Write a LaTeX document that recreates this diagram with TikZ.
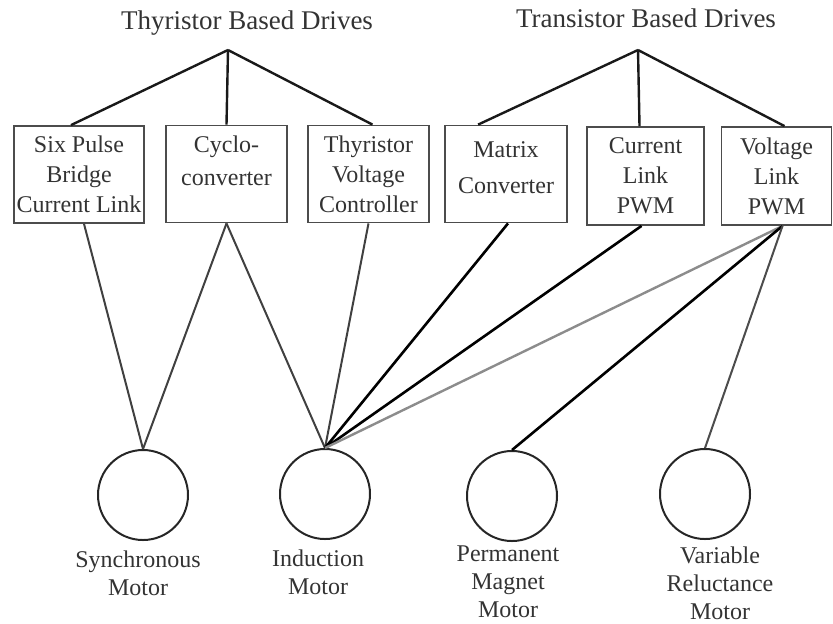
\documentclass[tikz,border=0pt]{standalone}
\usepackage{fontspec}
\setmainfont{Liberation Serif}
\begin{document}
\begin{tikzpicture}[x=0.5pt,y=-0.5pt]
            \useasboundingbox (0,0) rectangle (833,623);

            \node[anchor=base, text=black!80, font=\fontsize{13.5}{16}\selectfont] (thy) at (247,29) {Thyristor Based Drives};
            \node[anchor=base, text=black!80, font=\fontsize{13.5}{16}\selectfont] (tra) at (646,27) {Transistor Based Drives};
            \coordinate (thytop) at (228,50);
            \coordinate (tratop) at (638,50);

            \begin{scope}[every node/.style={rectangle, draw=black!70, line width=0.9pt,
                            align=center, inner sep=1pt, text=black!80,
                            font=\fontsize{12}{15}\selectfont, minimum height=48.5pt}]

                \node[minimum width=65pt] (spb) at (79,174.5) {Six Pulse\\Bridge\\Current Link};
                \node[minimum width=60.5pt, text depth=13.7pt] (cyc) at (226.5,174) {Cyclo-\\[1.5pt]converter};
                \node[minimum width=60.5pt] (tvc) at (368.5,174) {Thyristor\\Voltage\\Controller};
                \node[minimum width=61pt, text depth=6.9pt] (mc) at (506,174) {Matrix\\[3pt]Converter};
                \node[minimum width=58.5pt, minimum height=49pt] (clp) at (645.5,176) {Current\\Link\\PWM};
                \node[minimum width=55pt, minimum height=49pt] (vlp) at (776.5,176) {Voltage\\Link\\PWM};

            \end{scope}
            \begin{scope}[every node/.style={circle, draw=black!85, line width=1pt,
                            minimum size=45pt, inner sep=0pt}]

                \node (sm) at (143,495) {};
                \node (im) at (325,494) {};
                \node (pm) at (512,496) {};
                \node (vr) at (705,494) {};

            \end{scope}
            \begin{scope}[every node/.style={align=center, anchor=north, inner sep=0pt,
                            text=black!80, font=\fontsize{12}{14}\selectfont}]

                \node (smtxt) at (138,550) {Synchronous\\Motor};
                \node (imtxt) at (318,549) {Induction\\Motor};
                \node (pmtxt) at (508,545) {Permanent\\Magnet\\Motor};
                \node (vrtxt) at (720,546) {Variable\\Reluctance\\Motor};

            \end{scope}

            % drive families
            \path[black!90, line width=1.2pt] (thytop) edge ([xshift=-4pt]spb.north)
                                                      edge (cyc.north)
                                                      edge ([xshift=2pt]tvc.north);
            \path[black!90, line width=1.2pt] (tratop) edge ([xshift=17pt]mc.north west)
                                                      edge ([xshift=-3pt]clp.north)
                                                      edge ([xshift=4pt]vlp.north);

            % drives to motors
            \path[black!75, line width=1pt] ([xshift=2.5pt]spb.south) edge (sm.north);
            \path[black!75, line width=1pt] (cyc.south) edge (sm.north);
            \path[black!75, line width=1pt] (cyc.south) edge (im.north);
            \path[black!75, line width=1pt] (tvc.south) edge (im.north);
            \path[black, line width=1.3pt] ([xshift=1pt]mc.south) edge (im.north);
            \path[black, line width=1.3pt] ([xshift=-2pt]clp.south) edge (im.north);
            \path[black!45, line width=1.2pt] ([xshift=3pt]vlp.south) edge (im.north);
            \path[black, line width=1.3pt] ([xshift=3pt]vlp.south) edge (pm.north);
            \path[black!70, line width=1pt] ([xshift=3pt]vlp.south) edge (vr.north);

        \end{tikzpicture}
\end{document}
